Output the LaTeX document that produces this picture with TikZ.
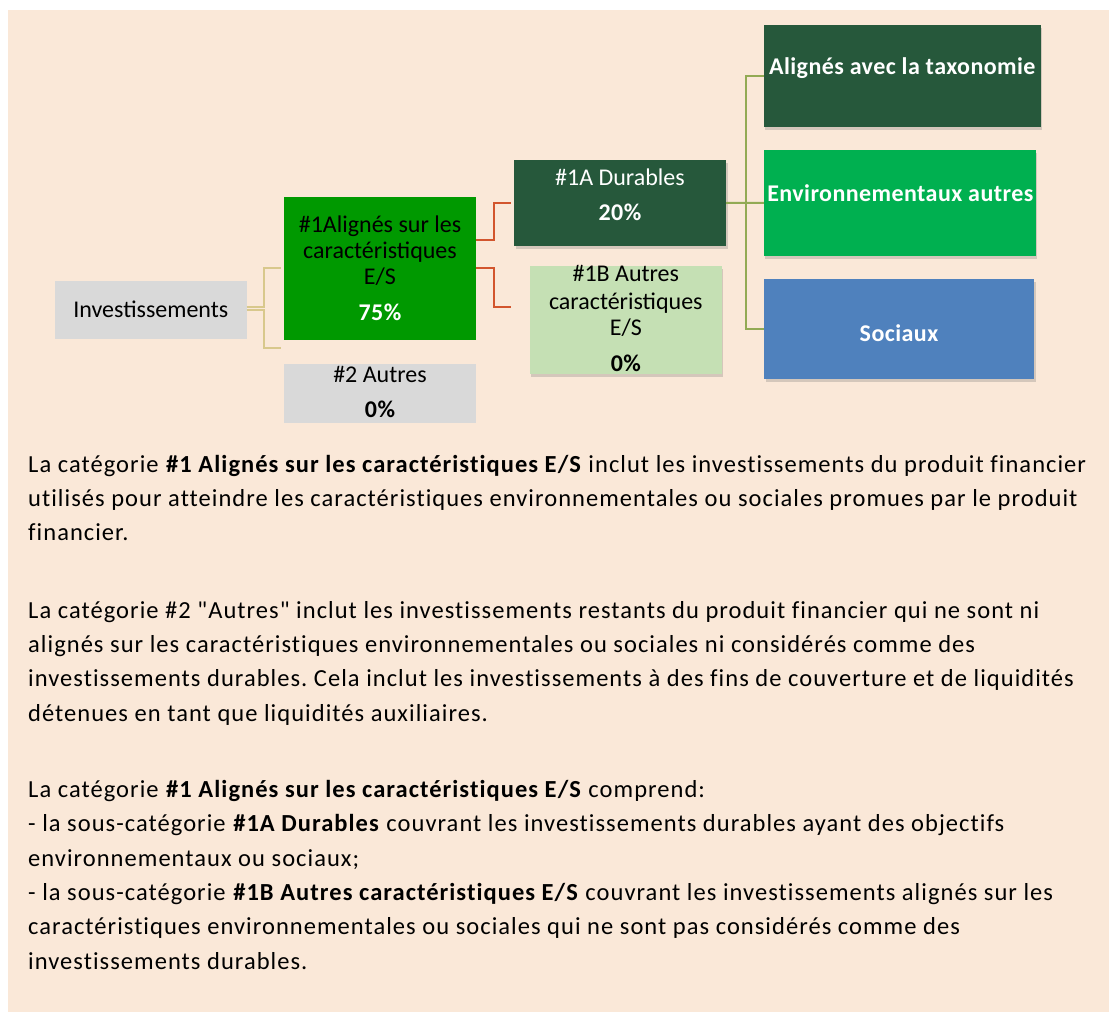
\documentclass[tikz,border=0pt]{standalone}
\usepackage{fontspec}
\setmainfont{Carlito}
\newfontfamily\bodyfont{Carlito}[LetterSpace=4.25, Ligatures={NoCommon}]
\newfontfamily\boldlbl{Carlito}[LetterSpace=1.8, Ligatures={NoCommon}]
\usetikzlibrary{shadows}
\definecolor{bg}{RGB}{250,232,216}
\definecolor{lgray}{RGB}{217,217,217}
\definecolor{mgreen}{RGB}{0,153,0}
\definecolor{dgreen}{RGB}{38,88,59}
\definecolor{pgreen}{RGB}{197,224,180}
\definecolor{egreen}{RGB}{0,176,80}
\definecolor{sblue}{RGB}{79,129,189}
\definecolor{tanc}{RGB}{216,200,140}
\definecolor{orc}{RGB}{210,85,45}
\definecolor{olc}{RGB}{146,170,84}
\tikzset{
  box/.style={rectangle, inner sep=0pt, outer sep=0pt, draw=none},
  shd/.style={drop shadow={shadow xshift=1.5pt, shadow yshift=-3pt, opacity=0.25, fill=black!60}},
  lbl/.style={anchor=base, inner sep=0pt, font=\fontsize{24}{28}\selectfont},
  blbl/.style={anchor=base, inner sep=0pt, font=\boldlbl\bfseries\fontsize{24}{28}\selectfont},
  body/.style={anchor=base west, inner sep=0pt, font=\bodyfont\frenchspacing\fontsize{24.5}{30}\selectfont},
  tanline/.style={draw=tanc, line width=2pt},
  orline/.style={draw=orc, line width=2pt},
  olline/.style={draw=olc, line width=2pt}
}
\begin{document}
\begin{tikzpicture}[x=1pt,y=-1pt]
\useasboundingbox (0,0) rectangle (1109,1012);
\fill[bg] (8,10) rectangle (1109,1012);

% boxes
\node[box, fill=lgray, minimum width=191.7pt, minimum height=58.3pt] (inv) at (150.8,310.2) {};
\node[box, fill=mgreen, minimum width=192pt, minimum height=143pt] (g1) at (380,268.2) {};
\node[box, fill=lgray, minimum width=192pt, minimum height=58.7pt] (o2) at (380,393.3) {};
\node[box, shd, fill=dgreen, minimum width=212pt, minimum height=86pt] (d1A) at (620,203) {};
\node[box, shd, fill=pgreen, minimum width=191.7pt, minimum height=108.3pt] (b1) at (625.8,320.2) {};
\node[box, shd, fill=dgreen, minimum width=276.7pt, minimum height=101.7pt] (tax) at (902.3,75.8) {};
\node[box, shd, fill=egreen, minimum width=271.7pt, minimum height=105.7pt] (env) at (899.8,202.8) {};
\node[box, shd, fill=sblue, minimum width=270pt, minimum height=100.3pt] (soc) at (899,329.2) {};

% box texts
\node[lbl] (tinv) at (150.8,317.3) {Investissements};
\node[lbl] (tg1a) at (380,232) {\#1Alignés sur les};
\node[lbl] (tg1b) at (380,258) {caractéristiques};
\node[lbl] (tg1c) at (380,284) {E/S};
\node[blbl, text=white] (tg1d) at (380,320) {75\%};
\node[lbl] (to2a) at (380,382.3) {\#2 Autres};
\node[blbl] (to2b) at (380,417.3) {0\%};
\node[lbl, text=white] (td1a) at (620,185) {\#1A Durables};
\node[blbl, text=white] (td1b) at (620,220) {20\%};
\node[lbl] (tb1a) at (625.8,281.7) {\#1B Autres};
\node[lbl] (tb1b) at (625.8,309.3) {caractéristiques};
\node[lbl] (tb1c) at (625.8,335) {E/S};
\node[blbl] (tb1d) at (625.8,371) {0\%};
\node[blbl, text=white] (ttax) at (902.3,74.3) {Alignés avec la taxonomie};
\node[blbl, text=white] (tenv) at (900.3,201.7) {Environnementaux autres};
\node[blbl, text=white] (tsoc) at (899,341.7) {Sociaux};

% connectors
\draw[tanline] ([yshift=3.2pt]inv.east) -- ++(17.2,0) |- ([xshift=-3pt]g1.west);
\draw[tanline] (inv.east) -- ++(17.2,0) |- ([xshift=-3pt,yshift=-8pt]g1.south west);
\draw[orline] ([yshift=28pt]g1.east) -- ++(17.7,0) |- ([xshift=-3pt]d1A.west);
\draw[orline] (g1.east) -- ++(17.7,0) |- ([xshift=-19pt,yshift=13.5pt]b1.west);
\draw[olline] (d1A.east) -- (env.west);
\draw[olline] (d1A.east) -- ++(19.5,0) |- (tax.west);
\draw[olline] (d1A.east) -- ++(19.5,0) |- (soc.west);

% body text
\node[body] (p1a) at (28,472) {La catégorie \textbf{\#1 Alignés sur les caractéristiques E/S} inclut les investissements du produit financier};
\node[body] (p1b) at (28,506.3) {utilisés pour atteindre les caractéristiques environnementales ou sociales promues par le produit};
\node[body] (p1c) at (28,540.6) {financier.};
\node[body] (p2a) at (28,618.3) {La catégorie \#2 "Autres" inclut les investissements restants du produit financier qui ne sont ni};
\node[body] (p2b) at (28,652.6) {alignés sur les caractéristiques environnementales ou sociales ni considérés comme des};
\node[body] (p2c) at (28,686.9) {investissements durables. Cela inclut les investissements à des fins de couverture et de liquidités};
\node[body] (p2d) at (28,721.2) {détenues en tant que liquidités auxiliaires.};
\node[body] (p3a) at (28,797.5) {La catégorie \textbf{\#1 Alignés sur les caractéristiques E/S} comprend:};
\node[body] (p3b) at (28,831.8) {- la sous-catégorie \textbf{\#1A Durables} couvrant les investissements durables ayant des objectifs};
\node[body] (p3c) at (28,866.1) {environnementaux ou sociaux;};
\node[body] (p3d) at (28,900.4) {- la sous-catégorie \textbf{\#1B Autres caractéristiques E/S} couvrant les investissements alignés sur les};
\node[body] (p3e) at (28,934.7) {caractéristiques environnementales ou sociales qui ne sont pas considérés comme des};
\node[body] (p3f) at (28,969) {investissements durables.};
\end{tikzpicture}
\end{document}
